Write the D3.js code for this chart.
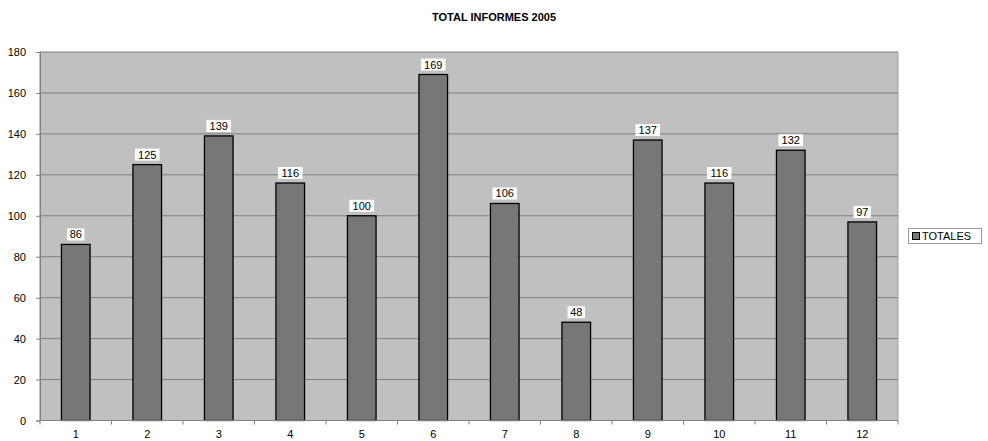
<!DOCTYPE html>
<html><head><meta charset="utf-8">
<script src="https://cdn.jsdelivr.net/npm/d3@7"></script>
<style>body{margin:0;background:#fff}svg{display:block;font-family:"Liberation Sans",Arial,sans-serif}</style>
</head><body>
<svg id="c" width="988" height="441"></svg>
<script>
const categories = ["1","2","3","4","5","6","7","8","9","10","11","12"];
const totales = [86,125,139,116,100,169,106,48,137,116,132,97];
const yTicks = [0,20,40,60,80,100,120,140,160,180];
const seriesName = "TOTALES";
const title = "TOTAL INFORMES 2005";

const svg = d3.select("#c");
const L = 40, R = 898, T = 52, B = 420.5;
const x = d3.scaleBand().domain(categories).range([L, R]).padding(0);
const y = d3.scaleLinear().domain([0,180]).range([B, T]);

svg.append("rect").attr("x",L).attr("y",T).attr("width",R-L).attr("height",B-T).attr("fill","#c0c0c0");
// gridlines
svg.append("g").selectAll("line").data(yTicks.filter(d=>d>0)).join("line")
  .attr("x1",L).attr("x2",R).attr("y1",d=>y(d)).attr("y2",d=>y(d))
  .attr("stroke","#7f7f7f").attr("stroke-width",1);
// plot border
svg.append("line").attr("x1",L).attr("x2",L).attr("y1",T).attr("y2",B).attr("stroke","#808080");
svg.append("line").attr("x1",R).attr("x2",R).attr("y1",T).attr("y2",B).attr("stroke","#a0a0a0");

// bars
const bw = x.bandwidth()*0.4;
svg.append("g").selectAll("rect").data(totales).join("rect")
  .attr("x",(d,i)=>x(categories[i])+x.bandwidth()/2-bw/2)
  .attr("y",d=>y(d)).attr("width",bw).attr("height",d=>B-y(d))
  .attr("fill","#777777").attr("stroke","#000").attr("stroke-width",1.3);

// labels
const lg = svg.append("g").selectAll("g").data(totales).join("g")
  .attr("transform",(d,i)=>`translate(${x(categories[i])+x.bandwidth()/2},${y(d)-6})`);
lg.append("rect").attr("x",d=>-String(d).length*3.6-1.5).attr("y",-10).attr("width",d=>String(d).length*7.2+3).attr("height",12).attr("fill","#fff");
lg.append("text").attr("text-anchor","middle").attr("font-size",11).attr("y",0).text(d=>d);

// y axis
const ya = d3.axisLeft(y).tickValues(yTicks).tickSize(4).tickPadding(10);
svg.append("g").attr("transform",`translate(${L},0)`).call(ya)
  .call(g=>{g.select(".domain").attr("stroke","#808080");g.selectAll(".tick line").attr("stroke","#808080");g.selectAll("text").attr("font-size",11).attr("font-family","Liberation Sans, Arial, sans-serif").attr("fill","#000");});

// x axis
svg.append("line").attr("x1",L).attr("x2",R).attr("y1",B).attr("y2",B).attr("stroke","#808080");
svg.append("g").selectAll("line").data(categories.concat(["end"])).join("line")
  .attr("x1",(d,i)=>L+i*x.bandwidth()).attr("x2",(d,i)=>L+i*x.bandwidth())
  .attr("y1",B).attr("y2",B+4).attr("stroke","#808080");
svg.append("g").selectAll("text").data(categories).join("text")
  .attr("x",d=>x(d)+x.bandwidth()/2).attr("y",B+17).attr("text-anchor","middle")
  .attr("font-size",11).text(d=>d);

// title
svg.append("text").attr("x",494).attr("y",21).attr("text-anchor","middle")
  .attr("font-size",11).attr("font-weight","bold").text(title);

// legend
const leg = svg.append("g");
leg.append("rect").attr("x",908.5).attr("y",228.5).attr("width",73).attr("height",15).attr("fill","#fff").attr("stroke","#999");
leg.append("rect").attr("x",912.5).attr("y",232.5).attr("width",7).attr("height",7).attr("fill","#777").attr("stroke","#000");
leg.append("text").attr("x",922).attr("y",240).attr("font-size",11).text(seriesName);
</script>
</body></html>
